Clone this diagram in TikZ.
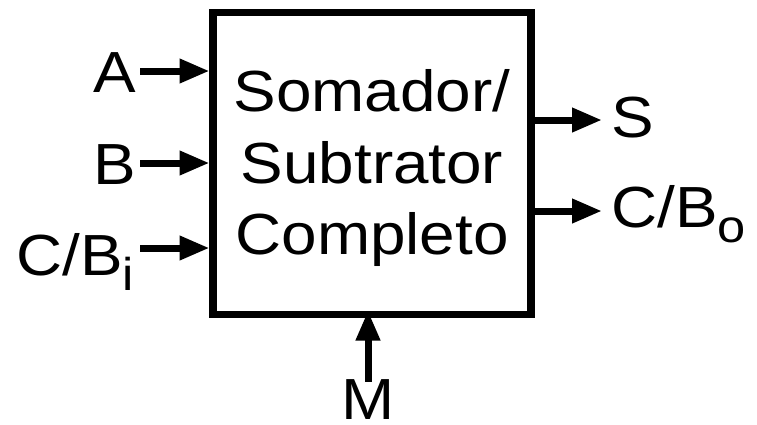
\documentclass[tikz,border=0pt]{standalone}
\usepackage{fontspec}
\setmainfont[FakeStretch=1.1]{Liberation Sans}
\usetikzlibrary{arrows.meta}
\newcommand\lowsub[1]{\raisebox{-15pt}{\fontsize{46}{46}\selectfont #1}}
\begin{document}
\begin{tikzpicture}[x=1pt,y=-1pt,
  lbl/.style={inner sep=0pt, font=\fontsize{58}{72}\selectfont},
  arr/.style={line width=7pt, -{Triangle[length=30pt,width=23pt]}},
  blk/.style={draw, line width=7.5pt, minimum width=318pt, minimum height=302pt,
    align=center, font=\fontsize{58}{71.5}\selectfont, inner sep=0pt}]
\useasboundingbox (0,0) rectangle (757,424);
\node[blk] (box) at (372,163.5) {};
\node[align=center, font=\fontsize{58}{71.5}\selectfont, inner sep=0pt] (txt) at (372,168) {Somador/\\Subtrator\\Completo};
% labels
\node[lbl, anchor=base east] (a) at (136,92) {A};
\node[lbl, anchor=base east] (b) at (136,184) {B};
\node[lbl, anchor=base east] (cbi) at (134,275) {C/B\lowsub{i}};
\node[lbl, anchor=base west] (s) at (611,137) {S};
\node[lbl, anchor=base west] (cbo) at (611,227) {C/B\lowsub{o}};
\node[lbl, anchor=base] (m) at (368,419) {M};
% ports
\coordinate (pa) at (209.5,71);
\coordinate (pb) at (209.5,163);
\coordinate (pc) at (209.5,248);
\coordinate (ps) at (602,120);
\coordinate (pco) at (602,211);
\coordinate (pm) at (368,310.5);
% connectors
\draw[arr] ([xshift=4pt]pa -| a.east) -- (pa);
\draw[arr] ([xshift=4pt]pb -| b.east) -- (pb);
\draw[arr] ([xshift=6pt]pc -| cbi.east) -- (pc);
\draw[arr] (ps -| box.east) -- (ps);
\draw[arr] (pco -| box.east) -- (pco);
\draw[arr] ([yshift=-3pt]m.north) -- (pm);
\end{tikzpicture}
\end{document}
